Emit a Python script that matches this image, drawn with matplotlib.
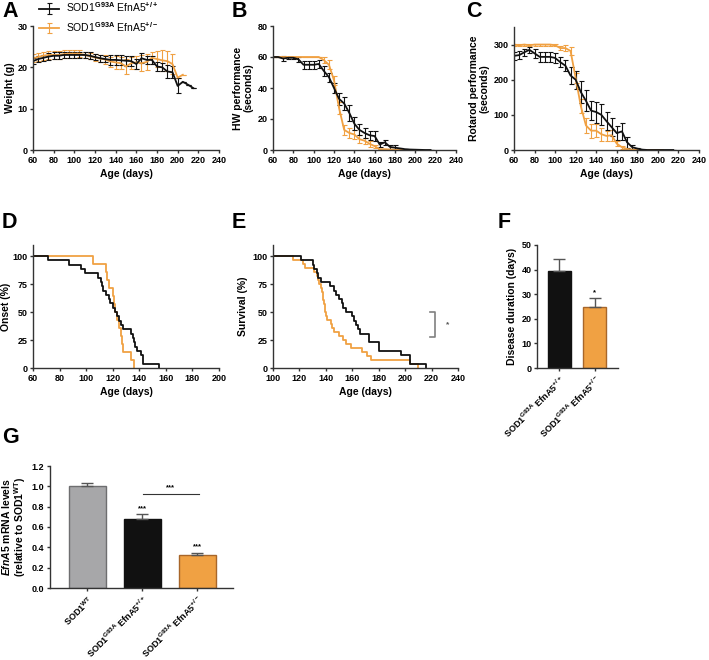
import numpy as np
import matplotlib.pyplot as plt

plt.rcParams['font.family'] = ['Liberation Sans', 'DejaVu Sans']
plt.rcParams['font.weight'] = 'bold'
plt.rcParams['axes.labelweight'] = 'bold'
plt.rcParams['mathtext.fontset'] = 'custom'
plt.rcParams['mathtext.rm'] = 'Liberation Sans'
plt.rcParams['mathtext.it'] = 'Liberation Sans:italic:bold'
plt.rcParams['mathtext.bf'] = 'Liberation Sans:bold'

BLACK = '#111111'
ORANGE = '#F0A143'
ORANGE_EDGE = '#A8662A'
GREY = '#A7A7A9'
GREY_EDGE = '#6E6E70'

# ---- data ----
days_wt = np.arange(60, 220, 5)      # 60..215, EfnA5 +/+
days_het = np.arange(60, 210, 5)     # 60..205, EfnA5 +/-

weight_wt = [21.5, 22.0, 22.3, 22.6, 22.8, 22.8, 23.0, 23.0, 23.0, 23.0, 23.0, 22.8, 22.5, 22.2,
             22.0, 21.8, 21.8, 21.7, 21.6, 21.5, 20.8, 22.2, 21.8, 21.8, 20.2, 20.0, 19.0, 18.8,
             15.5, 16.5, 15.8, 15.0]
weight_wt_err = [0.8, 0.8, 0.8, 0.8, 0.8, 0.8, 0.8, 0.8, 0.8, 0.8, 0.8, 0.8, 0.8, 0.8,
                 0.8, 1.2, 1.2, 1.2, 1.2, 1.2, 1.3, 1.2, 1.0, 1.0, 1.2, 1.0, 1.5, 1.5,
                 1.8, 0, 0, 0]
weight_het = [22.2, 22.5, 22.8, 23.0, 23.0, 23.0, 23.2, 23.3, 23.3, 23.3, 23.0, 22.7, 22.4, 22.1,
              21.9, 21.4, 21.2, 21.0, 20.2, 21.0, 21.2, 21.0, 21.3, 22.3, 22.0, 21.7, 21.5, 20.8,
              17.5, 18.2]
weight_het_err = [1.0, 1.0, 1.0, 1.0, 1.0, 1.0, 1.0, 1.0, 1.0, 0.8, 0.8, 0.8, 0.8, 0.8,
                  1.0, 1.2, 1.5, 1.5, 1.8, 1.5, 1.5, 2.0, 2.0, 1.5, 2.0, 2.5, 2.5, 2.5,
                  0, 0]

hw_wt = [60, 60, 59, 59.5, 59.5, 58.5, 55, 55, 55, 55.5, 51, 47, 40, 33, 30, 24, 17, 13, 11,
         9.5, 9, 3.5, 5, 2, 1.5, 1, 0.5, 0.3, 0.2, 0.1, 0, 0]
hw_wt_err = [0, 0, 1.5, 0.8, 0.8, 1.5, 2.5, 2.5, 2.5, 2.5, 3, 3, 3.5, 4, 4.5, 5, 4, 3.5, 3,
             3, 3, 1.5, 1.5, 1.5, 1.5, 0.5, 0, 0, 0, 0, 0, 0]
hw_het = [60, 60, 60, 60, 60, 60, 60, 60, 60, 60, 58, 55, 45, 27, 13, 11, 10, 7, 6, 4, 2.5,
          0.5, 0.5, 0.3, 0.2, 0.1, 0, 0, 0, 0]
hw_het_err = [0, 0, 0, 0, 0, 0, 0, 0, 0, 0, 2, 3, 3, 4, 3, 3, 3, 2.5, 2, 2, 1, 0, 0, 0, 0,
              0, 0, 0, 0, 0]

rr_wt = [268, 270, 278, 285, 275, 265, 265, 265, 262, 250, 240, 212, 200, 165, 140, 112, 108,
         100, 82, 65, 48, 53, 22, 8, 4, 1, 0, 0, 0, 0, 0, 0]
rr_wt_err = [12, 12, 10, 8, 12, 15, 15, 15, 15, 15, 15, 25, 25, 30, 30, 28, 30, 30, 25, 25, 20,
             25, 15, 5, 3, 0, 0, 0, 0, 0, 0, 0]
rr_het = [300, 298, 300, 298, 300, 300, 300, 300, 298, 290, 290, 282, 205, 125, 70, 55, 55, 45,
          40, 42, 18, 8, 3, 1, 0, 0, 0, 0, 0, 0]
rr_het_err = [3, 3, 3, 3, 3, 3, 3, 3, 3, 5, 8, 12, 15, 20, 22, 20, 18, 18, 15, 15, 8, 4, 0, 0,
              0, 0, 0, 0, 0, 0]

onset_wt_t = [60, 71, 87, 96, 99, 109, 111, 112, 113, 115, 117, 118, 120, 122, 123, 125, 126,
              128, 134, 135, 136, 137, 138, 141, 143, 155]
onset_wt_p = [100, 96.2, 92.3, 88.5, 84.6, 80.8, 76.9, 73.1, 69.2, 65.4, 61.5, 57.7, 53.8, 50.0,
              46.2, 42.3, 38.5, 34.6, 30.8, 26.9, 23.1, 19.2, 15.4, 11.5, 3.8, 0]
onset_het_t = [60, 105, 115, 116, 117, 120, 121, 122, 123, 125, 126, 127, 128, 134, 136]
onset_het_p = [100, 92.9, 85.7, 78.6, 71.4, 64.3, 57.1, 50.0, 42.9, 35.7, 28.6, 21.4, 14.3, 7.1, 0]

surv_wt_t = [100, 121, 130, 131, 133, 134, 136, 143, 146, 148, 150, 152, 153, 155, 160, 161,
             163, 164, 166, 173, 180, 197, 203.5, 215.5]
surv_wt_p = [100, 96.2, 92.3, 88.5, 84.6, 80.8, 76.9, 73.1, 69.2, 65.4, 61.5, 57.7, 53.8, 50.0,
             46.2, 42.3, 38.5, 34.6, 30.8, 23.1, 15.4, 11.5, 3.8, 0]
surv_het_t = [100, 115, 123, 124, 131, 133, 134, 135, 136, 137, 137.5, 138, 138.5, 139, 139.5,
              140, 141, 144, 145, 146, 150, 153, 155, 159, 167, 171, 174, 204, 209.5]
surv_het_p = [100, 96.4, 92.9, 89.3, 85.7, 82.1, 78.6, 75.0, 71.4, 67.9, 64.3, 60.7, 57.1, 53.6,
              50.0, 46.4, 42.9, 39.3, 35.7, 32.1, 28.6, 25.0, 21.4, 17.9, 14.3, 10.7, 7.1, 3.6, 0]

dur_vals = [39.5, 25.0]
dur_err = [4.7, 3.5]

mrna_vals = [1.0, 0.68, 0.325]
mrna_err = [0.03, 0.05, 0.015]

lab_wt = r'SOD1$^{\mathrm{G93A}}$ EfnA5$^{+/+}$'
lab_het = r'SOD1$^{\mathrm{G93A}}$ EfnA5$^{+/-}$'
lab_ctrl = r'SOD1$^{\mathrm{WT}}$'

TICK_FS = 6.5
LAB_FS = 7.5

# ---- figure ----
W, H = 709, 660
fig = plt.figure(figsize=(W / 100, H / 100), dpi=100)


def add_ax(l, r, t, b):
    return fig.add_axes([l / W, 1 - b / H, (r - l) / W, (b - t) / H])


def style(ax):
    for s in ['top', 'right']:
        ax.spines[s].set_visible(False)
    for s in ['left', 'bottom']:
        ax.spines[s].set_color('#333333')
        ax.spines[s].set_linewidth(1.0)
    ax.tick_params(direction='out', length=2.5, width=1, color='#333333', labelsize=TICK_FS,
                   pad=1.5)
    for lab in ax.get_xticklabels() + ax.get_yticklabels():
        lab.set_fontweight('bold')


def line_panel(ax, ywt, ewt, yhet, ehet):
    hh = ax.errorbar(days_het, yhet, yerr=ehet, color=ORANGE, lw=1.3, elinewidth=0.8,
                     capsize=1.8, capthick=0.8)
    hw = ax.errorbar(days_wt, ywt, yerr=ewt, color=BLACK, lw=1.3, elinewidth=0.8,
                     capsize=1.8, capthick=0.8)
    ax.set_xlim(60, 240)
    ax.set_xticks(np.arange(60, 241, 20))
    ax.set_xlabel('Age (days)', fontsize=LAB_FS, labelpad=3)
    return hw, hh


# A
axA = add_ax(33, 219, 26, 150)
hw, hh = line_panel(axA, weight_wt, weight_wt_err, weight_het, weight_het_err)
axA.set_ylim(0, 30)
axA.set_yticks([0, 10, 20, 30])
axA.set_ylabel('Weight (g)', fontsize=LAB_FS, labelpad=2)
style(axA)
fig.legend([hw, hh], [lab_wt, lab_het], loc='upper left', bbox_to_anchor=(38 / W, 1.0),
           frameon=False, prop={'weight': 'normal', 'size': 7.5}, handlelength=2.0,
           labelspacing=0.55, handletextpad=0.6, borderpad=0.05, borderaxespad=0)

# B
axB = add_ax(273, 456, 26, 150)
line_panel(axB, hw_wt, hw_wt_err, hw_het, hw_het_err)
axB.set_ylim(0, 80)
axB.set_yticks([0, 20, 40, 60, 80])
axB.set_ylabel('HW performance\n(seconds)', fontsize=LAB_FS, labelpad=3, linespacing=1.0)
style(axB)

# C
axC = add_ax(514, 699, 27, 150)
line_panel(axC, rr_wt, rr_wt_err, rr_het, rr_het_err)
axC.set_ylim(0, 350)
axC.set_yticks([0, 100, 200, 300])
axC.set_ylabel('Rotarod performance\n(seconds)', fontsize=LAB_FS, labelpad=3, linespacing=1.0)
style(axC)

# D
axD = add_ax(33, 219, 245, 368)
axD.step(onset_het_t, onset_het_p, where='post', color=ORANGE, lw=1.3)
axD.step(onset_wt_t, onset_wt_p, where='post', color=BLACK, lw=1.3)
axD.set_xlim(60, 200)
axD.set_xticks(np.arange(60, 201, 20))
axD.set_ylim(0, 110)
axD.set_yticks([0, 25, 50, 75, 100])
axD.set_xlabel('Age (days)', fontsize=LAB_FS, labelpad=3)
axD.set_ylabel('Onset (%)', fontsize=LAB_FS, labelpad=1)
style(axD)

# E
axE = add_ax(273, 458, 245, 368)
axE.step(surv_het_t, surv_het_p, where='post', color=ORANGE, lw=1.3)
axE.step(surv_wt_t, surv_wt_p, where='post', color=BLACK, lw=1.3)
axE.plot([219, 222.6, 222.6, 219], [50, 50, 28, 28], color='#808080', lw=1.2, clip_on=False)
axE.text(232, 39, '*', ha='center', va='center', fontsize=6, color='#555555')
axE.set_xlim(100, 240)
axE.set_xticks(np.arange(100, 241, 20))
axE.set_ylim(0, 110)
axE.set_yticks([0, 25, 50, 75, 100])
axE.set_xlabel('Age (days)', fontsize=LAB_FS, labelpad=3)
axE.set_ylabel('Survival (%)', fontsize=LAB_FS, labelpad=3)
style(axE)

# F
axF = add_ax(537, 618, 245, 368)
xf = np.arange(2)
axF.bar(xf, dur_vals, width=0.65, color=[BLACK, ORANGE], edgecolor=[BLACK, ORANGE_EDGE],
        linewidth=1.0, yerr=[[0, 0], dur_err], capsize=4,
        error_kw=dict(ecolor='#555555', elinewidth=1.0, capthick=1.0))
axF.text(1, dur_vals[1] + dur_err[1] + 2.2, '*', ha='center', va='center', fontsize=5.5)
axF.set_xlim(-0.63, 1.65)
axF.set_ylim(0, 50)
axF.set_yticks([0, 10, 20, 30, 40, 50])
axF.set_xticks(xf)
axF.set_xticklabels([lab_wt, lab_het], rotation=45, ha='right', rotation_mode='anchor',
                    fontsize=LAB_FS)
axF.set_ylabel('Disease duration (days)', fontsize=LAB_FS, labelpad=3)
style(axF)

# G
axG = add_ax(50, 233, 466, 588)
xg = np.arange(3)
axG.bar(xg, mrna_vals, width=0.67, color=[GREY, BLACK, ORANGE],
        edgecolor=[GREY_EDGE, BLACK, ORANGE_EDGE], linewidth=1.0,
        yerr=[[0, 0, 0], mrna_err], capsize=4,
        error_kw=dict(ecolor='#555555', elinewidth=1.0, capthick=1.0))
axG.text(1, 0.775, '***', ha='center', va='center', fontsize=5.5)
axG.text(2, 0.41, '***', ha='center', va='center', fontsize=5.5)
axG.plot([1.01, 2.03], [0.925, 0.925], color='#333333', lw=0.8)
axG.text(1.52, 0.985, '***', ha='center', va='center', fontsize=5.5)
axG.set_xlim(-0.68, 2.65)
axG.set_ylim(0, 1.2)
axG.set_yticks([0.0, 0.2, 0.4, 0.6, 0.8, 1.0, 1.2])
axG.set_yticklabels(['0.0', '0.2', '0.4', '0.6', '0.8', '1.0', '1.2'])
axG.set_xticks(xg)
axG.set_xticklabels([lab_ctrl, lab_wt, lab_het], rotation=45, ha='right',
                    rotation_mode='anchor', fontsize=LAB_FS)
axG.set_ylabel(r'$\mathit{EfnA5}$ mRNA levels' + '\n' + r'(relative to SOD1$^{\mathrm{WT}}$)',
               fontsize=LAB_FS, labelpad=3, linespacing=1.0)
style(axG)

# panel letters
for letter, x, y in [('A', 2, 1), ('B', 232, 1), ('C', 466, 1), ('D', 2, 212), ('E', 232, 212),
                     ('F', 498, 212), ('G', 2, 427)]:
    fig.text(x / W, 1 - y / H, letter, fontsize=15.5, fontweight='bold', va='top', ha='left')

fig.savefig('out.png', dpi=100)
